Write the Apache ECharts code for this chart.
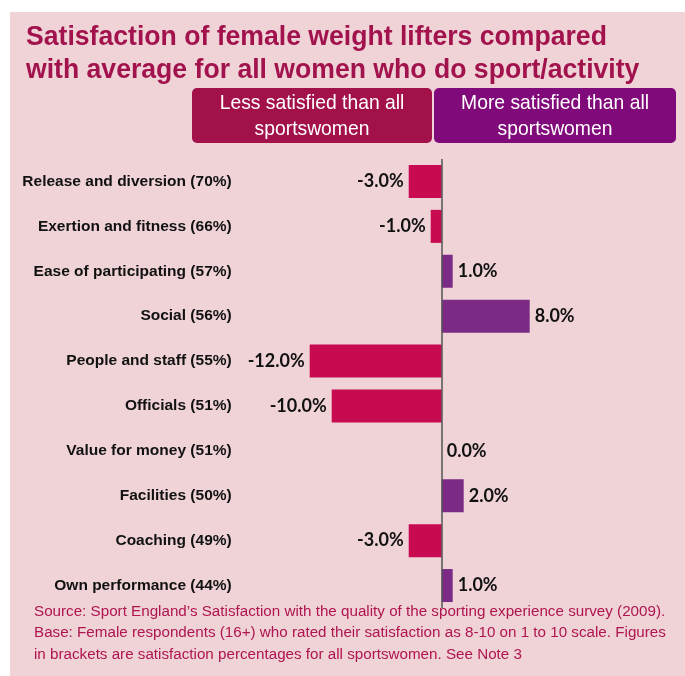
<!DOCTYPE html>
<html>
<head>
    <meta charset="utf-8">
    <title>Satisfaction of female weight lifters</title>
    <script src="https://cdn.jsdelivr.net/npm/echarts@6/dist/echarts.min.js"></script>
    <style>
        html, body {margin:0;padding:0;background:#fff;}
        #chart {width:685px;height:676px;}
    </style>
</head>
<body>
<div id="chart"></div>
<script>
    // categories, top to bottom
    const categories = [
        'Release and diversion (70%)',
        'Exertion and fitness (66%)',
        'Ease of participating (57%)',
        'Social (56%)',
        'People and staff (55%)',
        'Officials (51%)',
        'Value for money (51%)',
        'Facilities (50%)',
        'Coaching (49%)',
        'Own performance (44%)'
    ];
    // difference vs all sportswomen, percentage points
    const differences = [-3, -1, 1, 8, -12, -10, 0, 2, -3, 1];

    const legendLabels = ['Less satisfied than all\nsportswomen', 'More satisfied than all\nsportswomen'];
    const titleText = 'Satisfaction of female weight lifters compared\nwith average for all women who do sport/activity';
    const sourceText = 'Source: Sport England\u2019s Satisfaction with the quality of the sporting experience survey (2009).\n' +
        'Base: Female respondents (16+) who rated their satisfaction as 8-10 on 1 to 10 scale. Figures\n' +
        'in brackets are satisfaction percentages for all sportswomen. See Note 3';

    const NEG = '#c80a50', POS = '#7b2a86';
    const font = '"Liberation Sans", Arial, sans-serif';

    const chart = echarts.init(document.getElementById('chart'));

    chart.setOption({
        animation: false,
        backgroundColor: '#ffffff',
        graphic: [
            {type: 'rect', left: 10, top: 12, shape: {width: 675, height: 664}, style: {fill: '#efd3d7'}, z: -10},
            // title is squeezed a little to look like the condensed original face
            {type: 'text', x: 26, y: 21, scaleX: 0.95, style: {text: titleText, fill: '#a2124d', font: 'bold 28px ' + font, lineHeight: 33}},
            {type: 'group', left: 192, top: 88, children: [
                {type: 'rect', shape: {x: 0, y: 0, width: 240, height: 55, r: 5}, style: {fill: '#a3114a'}},
                {type: 'text', x: 120, y: 28, scaleX: 0.92, style: {text: legendLabels[0], fill: '#fff', font: '21px ' + font, align: 'center', verticalAlign: 'middle', lineHeight: 26}}
            ]},
            {type: 'group', left: 434, top: 88, children: [
                {type: 'rect', shape: {x: 0, y: 0, width: 242, height: 55, r: 5}, style: {fill: '#800a7a'}},
                {type: 'text', x: 121, y: 28, scaleX: 0.92, style: {text: legendLabels[1], fill: '#fff', font: '21px ' + font, align: 'center', verticalAlign: 'middle', lineHeight: 26}}
            ]},
            {type: 'text', left: 34, top: 601, style: {text: sourceText, fill: '#b0154f', font: '15.2px ' + font, lineHeight: 21.5}}
        ],
        grid: {left: 309.7, right: 23.3, top: 159, bottom: 68},
        xAxis: {
            type: 'value', min: -12, max: 20,
            show: false
        },
        yAxis: {
            type: 'category', data: categories, inverse: true,
            axisLine: {show: false}, axisTick: {show: false},
            axisLabel: {margin: 78, color: '#111', fontWeight: 'bold', fontSize: 15.5, fontFamily: font}
        },
        series: [{
            type: 'bar',
            barWidth: 33,
            data: differences.map(v => ({
                value: v,
                itemStyle: {color: v < 0 ? NEG : POS},
                label: {position: v < 0 ? 'left' : 'right'}
            })),
            label: {
                show: true, distance: 5, color: '#111', fontWeight: 'bold', fontSize: 18,
                fontFamily: 'Lato, "Liberation Sans", sans-serif',
                formatter: p => p.value.toFixed(1) + '%'
            },
            markLine: {
                silent: true, symbol: 'none', label: {show: false},
                lineStyle: {color: '#555', width: 1.5, type: 'solid'},
                data: [{xAxis: 0}]
            }
        }]
    });
</script>
</body>
</html>
